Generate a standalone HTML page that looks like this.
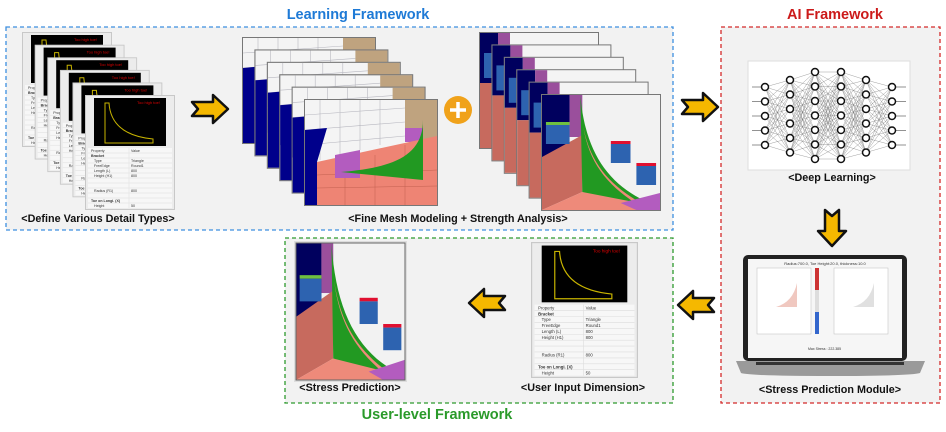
<!DOCTYPE html>
<html><head><meta charset="utf-8"><style>
html,body{margin:0;padding:0;background:#fff;}
svg{display:block;font-family:"Liberation Sans",sans-serif;}
.t{font-weight:bold;font-size:14.5px;}
.l{font-weight:bold;font-size:10.8px;fill:#111;}
</style></head><body>
<svg id="svgroot" width="946" height="432" viewBox="0 0 946 432" xmlns="http://www.w3.org/2000/svg">
<defs>
<symbol id="arrow" viewBox="-2 -2 40 32">
<path d="M0,7 L21,7 L21,0 L36,14 L21,28 L21,21 L0,21 L6,14 Z" fill="#f5b800" stroke="#111" stroke-width="2.5" stroke-linejoin="round"/>
</symbol>
<symbol id="detail" viewBox="0 0 90 115" preserveAspectRatio="none">
<rect x="0.5" y="0.5" width="89" height="114" fill="#ececec" stroke="#c8c8c8"/>
<rect x="9" y="3" width="72" height="48" fill="#000"/>
<text x="52" y="9" font-size="4" fill="#d00">Too high toe!</text>
<path d="M20,8 L24,8 Q26,40 68,44 L68,48 L20,48 Z" fill="none" stroke="#c8b400" stroke-width="1"/>
<rect x="3" y="53" width="84" height="60" fill="#f7f7f7"/>
<g stroke="#ddd" stroke-width="0.5">
<line x1="3" y1="58" x2="87" y2="58"/><line x1="3" y1="63" x2="87" y2="63"/><line x1="3" y1="68" x2="87" y2="68"/><line x1="3" y1="73" x2="87" y2="73"/><line x1="3" y1="78" x2="87" y2="78"/><line x1="3" y1="83" x2="87" y2="83"/><line x1="3" y1="88" x2="87" y2="88"/><line x1="3" y1="93" x2="87" y2="93"/><line x1="3" y1="98" x2="87" y2="98"/><line x1="3" y1="103" x2="87" y2="103"/><line x1="3" y1="108" x2="87" y2="108"/><line x1="44" y1="53" x2="44" y2="113"/>
</g>
<g font-size="3.6" fill="#333"><text x="6" y="57">Property</text><text x="46" y="57">Value</text>
<text x="6" y="62" font-weight="bold">Bracket</text><text x="9" y="67">Type</text><text x="46" y="67">Triangle</text><text x="9" y="72">FreeEdge</text><text x="46" y="72">Round1</text><text x="9" y="77">Length (L)</text><text x="46" y="77">800</text><text x="9" y="82">Height (H1)</text><text x="46" y="82">800</text><text x="9" y="97">Radius (R1)</text><text x="46" y="97">800</text><text x="6" y="107" font-weight="bold">Toe on Longi. (X)</text><text x="9" y="112">Height</text><text x="46" y="112">50</text></g>
</symbol>
<symbol id="mesh" viewBox="0 0 132 105" preserveAspectRatio="none">
<rect x="0" y="0" width="132" height="105" fill="#f4f4f4"/>
<g stroke="#b8b8c0" stroke-width="0.6" fill="none">
<path d="M0,15 L100,8 M0,30 L100,22 M0,45 L100,36 M15,0 L15,60 M35,0 L35,55 M55,0 L55,50 M75,0 L75,45"/>
</g>
<rect x="100" y="0" width="32" height="40" fill="#bfa37f"/>
<rect x="100" y="28" width="18" height="14" fill="#b35cbf"/>
<polygon points="12,62 132,36 132,105 12,105" fill="#ee8474"/>
<polygon points="0,30 12,30 12,105 0,105" fill="#00008b"/>
<polygon points="0,30 22,28 12,62 0,70" fill="#00008b"/>
<g stroke="#c26050" stroke-width="0.5"><path d="M12,75 L132,70 M12,88 L132,86 M40,62 L40,105 M70,55 L70,105 M100,45 L100,105"/></g>
</symbol>
<symbol id="meshfront" viewBox="0 0 132 105" preserveAspectRatio="none">
<use href="#mesh" width="132" height="105"/>
<polygon points="30,55 55,50 55,78 30,78" fill="#b35cbf"/>
<path d="M36,72 C80,68 118,60 118,20 L118,80 Z" fill="#229922"/>
</symbol>
<symbol id="stress" viewBox="0 0 120 115" preserveAspectRatio="none">
<rect x="0" y="0" width="120" height="115" fill="#f2f2f2"/>
<rect x="0" y="0" width="28" height="62" fill="#00005e"/>
<rect x="28" y="0" width="13" height="42" fill="#9a4f9c"/>
<polygon points="0,62 41,40 41,97 0,115" fill="#c76a5e"/>
<polygon points="0,115 41,97 80,100 120,115" fill="#ee8a7a"/>
<path d="M39,0 C44,60 70,95 120,112 L41,97 Z" fill="#229922"/>
<path d="M42,32 C50,72 72,92 104,110 L98,110 C66,90 48,68 42,32 Z" fill="#ee8a7a"/>
<polygon points="80,108 120,98 120,115 96,115" fill="#b35cbf"/>
<rect x="4" y="27" width="24" height="3" fill="#6fbf3f"/>
<rect x="4" y="30" width="24" height="19" fill="#2d63b0"/>
<rect x="70" y="46" width="20" height="3" fill="#e01030"/>
<rect x="70" y="49" width="20" height="19" fill="#2d63b0"/>
<rect x="96" y="68" width="20" height="3" fill="#e01030"/>
<rect x="96" y="71" width="20" height="19" fill="#2d63b0"/>
</symbol>
</defs>

<text class="t" x="358" y="19" text-anchor="middle" fill="#1e7ad6">Learning Framework</text>
<text class="t" x="835" y="19" text-anchor="middle" fill="#cc1a1a">AI Framework</text>
<text class="t" x="437" y="419" text-anchor="middle" fill="#2a9a2a">User-level Framework</text>

<rect x="6" y="27" width="667" height="203" fill="#f2f2f2" stroke="#3d8fe0" stroke-width="1.3" stroke-dasharray="4,3"/>
<rect x="721" y="27" width="219" height="376" fill="#f2f2f2" stroke="#d42a2a" stroke-width="1.3" stroke-dasharray="4,3"/>
<rect x="285" y="238" width="388" height="165" fill="#f2f2f2" stroke="#2e9a2e" stroke-width="1.3" stroke-dasharray="4,3"/>

<g id="details"></g>
<text class="l" x="98" y="222" text-anchor="middle">&lt;Define Various Detail Types&gt;</text>

<use href="#arrow" x="190" y="93" width="40" height="32"/>

<g id="meshes"></g>
<circle cx="458" cy="110" r="14" fill="#f0a21a"/>
<path d="M458,102 V118 M450,110 H466" stroke="#fff" stroke-width="3.5"/>
<g id="stresses"></g>
<text class="l" x="458" y="222" text-anchor="middle">&lt;Fine Mesh Modeling + Strength Analysis&gt;</text>

<use href="#arrow" x="680" y="91" width="40" height="32"/>

<rect x="748" y="61" width="162" height="109" fill="#fff" stroke="#ddd"/>
<g id="nn"></g>
<text class="l" x="832" y="181" text-anchor="middle">&lt;Deep Learning&gt;</text>

<g transform="translate(848,208) rotate(90)"><use href="#arrow" x="0" y="0" width="40" height="32"/></g>

<rect x="743" y="255" width="164" height="106" rx="5" fill="#222"/>
<rect x="748" y="259" width="154" height="99" fill="#f6f6f6"/>
<text x="825" y="265" font-size="4" text-anchor="middle" fill="#333">Radius:700.0, Toe Height:20.0, thickness:10.0</text>
<rect x="757" y="268" width="54" height="66" fill="#fff" stroke="#bbb" stroke-width="0.5"/>
<rect x="815" y="268" width="4" height="66" fill="#c33"/>
<rect x="815" y="290" width="4" height="22" fill="#ddd"/>
<rect x="815" y="312" width="4" height="22" fill="#3366cc"/>
<rect x="834" y="268" width="54" height="66" fill="#fff" stroke="#bbb" stroke-width="0.5"/>
<path d="M776,307 L797,307 L797,283 Q793,302 776,307Z" fill="#f0c8c0"/>
<path d="M853,307 L874,307 L874,283 Q870,302 853,307Z" fill="#e0e0e0"/>
<text x="808" y="350" font-size="3.5" fill="#333">Max Stress : 222.385</text>
<path d="M736,361 H925 L920,373 Q910,376 830,376 Q750,376 741,373 Z" fill="#9a9a9a"/>
<rect x="756" y="362" width="148" height="3" fill="#333"/>
<text class="l" x="830" y="393" text-anchor="middle">&lt;Stress Prediction Module&gt;</text>

<g transform="translate(716,321) rotate(180)"><use href="#arrow" x="0" y="0" width="40" height="32"/></g>

<use href="#detail" x="531" y="242" width="107" height="136"/>
<text class="l" x="583" y="391" text-anchor="middle">&lt;User Input Dimension&gt;</text>

<g transform="translate(507,319) rotate(180)"><use href="#arrow" x="0" y="0" width="40" height="32"/></g>

<rect x="294" y="241" width="113" height="141" fill="#ddd"/>
<use href="#stress" x="296" y="243" width="109" height="137"/>
<rect x="296" y="243" width="109" height="137" fill="none" stroke="#666" stroke-width="1"/>
<text class="l" x="350" y="391" text-anchor="middle">&lt;Stress Prediction&gt;</text>
</svg>
<script>
(function(){
var NS="http://www.w3.org/2000/svg";
function el(p,t,a){var e=document.createElementNS(NS,t);for(var k in a)e.setAttribute(k,a[k]);p.appendChild(e);return e;}
var d=document.getElementById("details");
for(var i=0;i<6;i++){el(d,"use",{href:"#detail",x:22+i*12.6,y:32+i*12.6,width:90,height:115});}
var m=document.getElementById("meshes");
for(var i=0;i<6;i++){var g=el(m,"g",{});el(g,"rect",{x:243+i*12.4-1,y:38+i*12.4-1,width:134,height:107,fill:"#777"});el(g,"use",{href:i==5?"#meshfront":"#mesh",x:243+i*12.4,y:38+i*12.4,width:132,height:105});}
var s=document.getElementById("stresses");
for(var i=0;i<6;i++){var x=480+i*12.4,y=33+i*12.4;el(s,"rect",{x:x-1,y:y-1,width:120,height:117,fill:"#777"});
 if(i==5){el(s,"use",{href:"#stress",x:x,y:y,width:118,height:115});}
 else{el(s,"rect",{x:x,y:y,width:118,height:115,fill:"#f4f4f4"});el(s,"rect",{x:x,y:y,width:18,height:50,fill:"#00005e"});el(s,"rect",{x:x+18,y:y,width:12,height:14,fill:"#9a4f9c"});el(s,"rect",{x:x,y:y+50,width:30,height:65,fill:"#c76a5e"});el(s,"rect",{x:x+4,y:y+20,width:13,height:25,fill:"#2d63b0"});}}
var nn=document.getElementById("nn");
var xs=[765,790,815,841,866,892],cnt=[5,6,7,7,6,5],L=[];
var tops={5:87,6:80,7:72};
for(var i=0;i<6;i++){var n=cnt[i],a=[],t0=tops[n];for(var j=0;j<n;j++)a.push(t0+j*14.5);L.push(a);}
for(var i=0;i<5;i++)for(var a=0;a<L[i].length;a++)for(var b=0;b<L[i+1].length;b++)el(nn,"line",{x1:xs[i],y1:L[i][a],x2:xs[i+1],y2:L[i+1][b],stroke:"#777","stroke-width":0.35});
for(var j=0;j<5;j++){el(nn,"line",{x1:752,y1:L[0][j],x2:765,y2:L[0][j],stroke:"#777","stroke-width":0.8});el(nn,"line",{x1:892,y1:L[5][j],x2:906,y2:L[5][j],stroke:"#777","stroke-width":0.8});}
for(var i=0;i<6;i++)for(var j=0;j<L[i].length;j++)el(nn,"circle",{cx:xs[i],cy:L[i][j],r:3.5,fill:"#fff",stroke:"#111","stroke-width":1.5});
})();
</script>
</body></html>
